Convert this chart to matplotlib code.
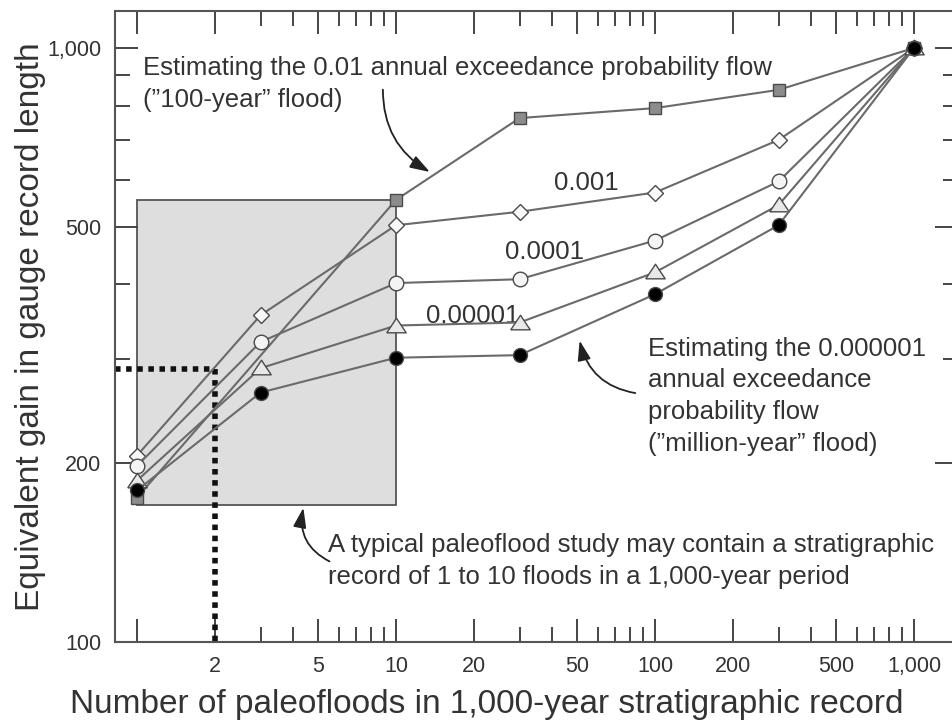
import numpy as np
import matplotlib
matplotlib.use("Agg")
import matplotlib.pyplot as plt
from matplotlib.patches import Rectangle, FancyArrowPatch
from matplotlib.ticker import FixedLocator, FixedFormatter, NullFormatter

plt.rcParams["font.family"] = ["Liberation Sans", "DejaVu Sans"]

# number of paleofloods in the 1,000-year record
x_floods = [1, 3, 10, 30, 100, 300, 1000]
x_floods_sq = [1, 10, 30, 100, 300, 1000]

# equivalent gain in gauge record length, one series per exceedance probability
gain_p01 = [175, 555, 762, 792, 850, 1000]            # 0.01 ("100-year")
gain_p001 = [206, 355, 503, 530, 571, 700, 1000]      # 0.001
gain_p0001 = [198, 320, 402, 408, 474, 596, 1000]     # 0.0001
gain_p00001 = [187, 289, 341, 345, 419, 544, 1000]    # 0.00001
gain_p000001 = [180, 263, 301, 304, 385, 503, 1000]   # 0.000001 ("million-year")

# typical paleoflood study box and the dotted guide
box_x = [1, 10]
box_y = [170, 555]
guide_x = 2
guide_y = 288

x_ticks = [1, 2, 5, 10, 20, 50, 100, 200, 500, 1000]
x_labels = ["", "2", "5", "10", "20", "50", "100", "200", "500", "1,000"]
x_minor = [3, 4, 6, 7, 8, 9, 30, 40, 60, 70, 80, 90, 300, 400, 600, 700, 800, 900]
y_ticks = [100, 200, 500, 1000]
y_labels = ["100", "200", "500", "1,000"]
y_minor = [300, 400, 600, 700, 800, 900]

line_col = "#6a6a6a"
edge_col = "#4a4a4a"
text_col = "#333333"

fig = plt.figure(figsize=(9.53, 7.21), dpi=100)
ax = fig.add_axes([115 / 953, 79 / 721, 843 / 953, 631 / 721])
ax.set_xscale("log")
ax.set_yscale("log")
ax.set_xlim(0.822, 1479)
ax.set_ylim(100, 1154)

# shaded box
ax.add_patch(Rectangle((box_x[0], box_y[0]), box_x[1] - box_x[0], box_y[1] - box_y[0],
                       facecolor="#dedede", edgecolor="#555555", lw=1.3, zorder=1))

# dotted guide line
ax.plot([0.822, guide_x, guide_x], [guide_y, guide_y, 100], color="#111111",
        lw=4, linestyle=(0, (1, 1)), solid_capstyle="butt", dash_capstyle="butt",
        zorder=2, clip_on=False)

tri = [(-1, -0.65), (1, -0.65), (0, 0.85), (-1, -0.65)]
series = [
    (x_floods_sq, gain_p01, "s", 8.5, "#8c8c8c"),
    (x_floods, gain_p001, "D", 8.5, "#f8f8f8"),
    (x_floods, gain_p0001, "o", 10.5, "#f4f4f4"),
    (x_floods, gain_p00001, tri, 14, "#e8e8e8"),
    (x_floods, gain_p000001, "o", 10, "#000000"),
]
for i, (xs, ys, mk, ms, fc) in enumerate(series):
    ax.plot(xs, ys, color=line_col, lw=1.5, zorder=3 + i)
    ax.plot(xs, ys, linestyle="none", marker=mk, ms=ms, mfc=fc, mec=edge_col,
            mew=1.0, zorder=3 + i)

fs = 18.5
ls = 1.42
ax.text(1.055, 869, "Estimating the 0.01 annual exceedance probability flow\n"
        "(\u201d100-year\u201d flood)", ha="left", va="center", fontsize=fs,
        color=text_col, linespacing=ls, zorder=10)
ax.text(54.2, 593, "0.001", ha="center", va="center", fontsize=fs, color=text_col)
ax.text(37.6, 454, "0.0001", ha="center", va="center", fontsize=fs, color=text_col)
ax.text(19.7, 354, "0.00001", ha="center", va="center", fontsize=fs, color=text_col)
ax.text(94, 259, "Estimating the 0.000001\nannual exceedance\nprobability flow\n"
        "(\u201dmillion-year\u201d flood)", ha="left", va="center", fontsize=fs,
        color=text_col, linespacing=ls)
ax.text(5.46, 137, "A typical paleoflood study may contain a stratigraphic\n"
        "record of 1 to 10 floods in a 1,000-year period", ha="left", va="center",
        fontsize=fs, color=text_col, linespacing=ls)

arrow_kw = dict(arrowstyle="-|>,head_length=0.6,head_width=0.2", mutation_scale=20,
                color="#222222", lw=1.3, zorder=11)
ax.add_patch(FancyArrowPatch((8.9, 860), (13.8, 615),
                             connectionstyle="arc3,rad=0.3", **arrow_kw))
ax.add_patch(FancyArrowPatch((86, 262), (50.9, 325),
                             connectionstyle="arc3,rad=-0.35", **arrow_kw))
ax.add_patch(FancyArrowPatch((5.66, 136), (4.41, box_y[0]),
                             connectionstyle="arc3,rad=-0.4", **arrow_kw))

# axes and ticks
ax.xaxis.set_major_locator(FixedLocator(x_ticks))
ax.xaxis.set_major_formatter(FixedFormatter(x_labels))
ax.xaxis.set_minor_locator(FixedLocator(x_minor))
ax.xaxis.set_minor_formatter(NullFormatter())
ax.yaxis.set_major_locator(FixedLocator(y_ticks))
ax.yaxis.set_major_formatter(FixedFormatter(y_labels))
ax.yaxis.set_minor_locator(FixedLocator(y_minor))
ax.yaxis.set_minor_formatter(NullFormatter())
ax.tick_params(which="both", direction="in", top=True, right=True,
               color="#444444", width=1.4, labelsize=15.5, labelcolor=text_col)
ax.tick_params(which="major", length=16.5, pad=10)
ax.tick_params(which="minor", length=10.8)
for sp in ax.spines.values():
    sp.set_color("#555555")
    sp.set_linewidth(1.5)

ax.set_xlabel("Number of paleofloods in 1,000-year stratigraphic record",
              fontsize=24, color=text_col, labelpad=8)
ax.xaxis.set_label_coords(0.441, -0.075)
ax.set_ylabel("Equivalent gain in gauge record length", fontsize=24,
              color=text_col, labelpad=0.5)

fig.savefig("out.png", dpi=100)
